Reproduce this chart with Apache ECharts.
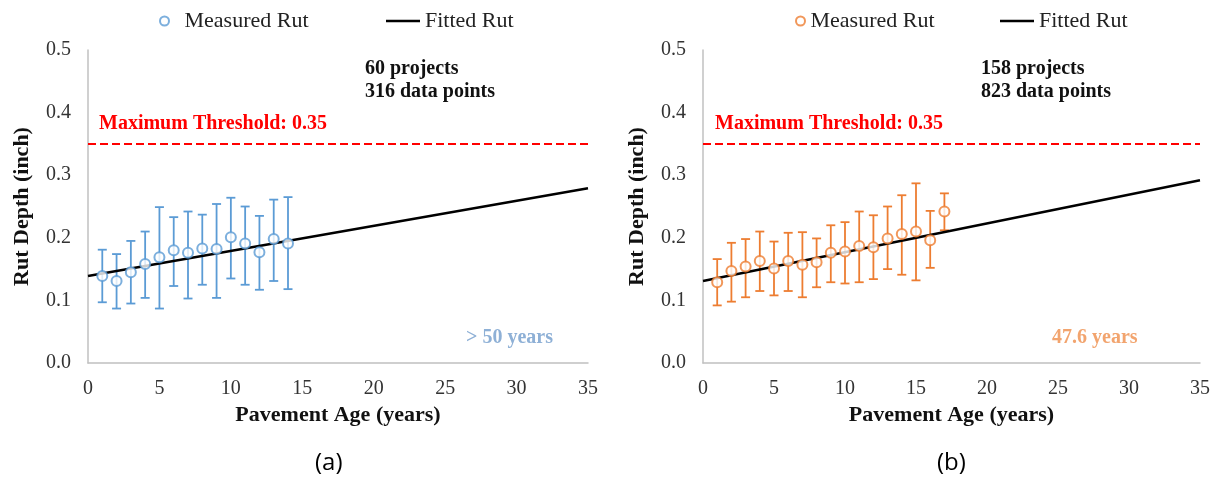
<!DOCTYPE html>
<html>
<head>
<meta charset="utf-8">
<script src="https://cdn.jsdelivr.net/npm/echarts@6/dist/echarts.min.js"></script>
<style>
html,body{margin:0;padding:0;background:#fff;}
#chart{width:1222px;height:481px;}
</style>
</head>
<body>
<div id="chart"></div>
<script>
// ---- Data ----
const ageA  = [1,2,3,4,5,6,7,8,9,10,11,12,13,14];
const meanA = [0.139,0.131,0.145,0.158,0.169,0.180,0.176,0.183,0.182,0.201,0.191,0.177,0.198,0.191];
const lowA  = [0.097,0.087,0.095,0.104,0.087,0.123,0.103,0.125,0.104,0.135,0.125,0.117,0.131,0.118];
const highA = [0.181,0.174,0.195,0.210,0.249,0.233,0.242,0.237,0.254,0.264,0.250,0.235,0.261,0.265];
const fitA  = [[0,0.139],[35,0.279]];

const ageB  = [1,2,3,4,5,6,7,8,9,10,11,12,13,14,15,16,17];
const meanB = [0.129,0.147,0.154,0.163,0.151,0.163,0.157,0.161,0.176,0.178,0.187,0.185,0.199,0.206,0.210,0.196,0.242];
const lowB  = [0.092,0.098,0.105,0.115,0.108,0.115,0.105,0.121,0.129,0.127,0.129,0.134,0.150,0.141,0.132,0.152,0.212];
const highB = [0.166,0.192,0.198,0.210,0.194,0.208,0.209,0.199,0.220,0.225,0.242,0.236,0.250,0.268,0.287,0.243,0.271];
const fitB  = [[0,0.131],[35,0.292]];

const threshold = 0.35;
const xTicks = {min:0, max:35, interval:5};
const yTicks = {min:0, max:0.5, interval:0.1};

const notesA = ['60 projects','316 data points'];
const notesB = ['158 projects','823 data points'];
const lifeA = '> 50 years';
const lifeB = '47.6 years';

// ---- Styles ----
const SERIF = '"Liberation Serif","Times New Roman",serif';
const BLUE = '#5b9bd5', ORANGE = '#ed7d31';

function xAxis(gi){
  return {
    gridIndex:gi, type:'value', min:xTicks.min, max:xTicks.max, interval:xTicks.interval,
    axisLine:{show:true, lineStyle:{color:'#c0c0c0', width:1.5}},
    axisTick:{show:false}, splitLine:{show:false},
    axisLabel:{fontFamily:SERIF, fontSize:20, color:'#333', margin:16},
    name:'Pavement Age (years)', nameLocation:'middle', nameGap:40,
    nameTextStyle:{fontFamily:SERIF, fontSize:22, fontWeight:'bold', color:'#111'}
  };
}
function yAxis(gi){
  return {
    gridIndex:gi, type:'value', min:yTicks.min, max:yTicks.max, interval:yTicks.interval,
    axisLine:{show:true, lineStyle:{color:'#c0c0c0', width:1.5}},
    axisTick:{show:false}, splitLine:{show:false},
    axisLabel:{fontFamily:SERIF, fontSize:20, color:'#333', margin:17, formatter:v=>v.toFixed(1)},
    name:'Rut Depth (inch)', nameLocation:'middle', nameGap:55, nameRotate:90,
    nameTextStyle:{fontFamily:SERIF, fontSize:22, fontWeight:'bold', color:'#111'}
  };
}
function errSeries(name, gi, ages, lows, highs, color){
  return {
    name:name, type:'custom', xAxisIndex:gi, yAxisIndex:gi, z:2, silent:true,
    data: ages.map((a,i)=>[a, lows[i], highs[i]]),
    encode:{x:0, y:[1,2]},
    renderItem:function(params, api){
      const x = api.value(0);
      const pLo = api.coord([x, api.value(1)]);
      const pHi = api.coord([x, api.value(2)]);
      const c = 4.5;
      const st = {stroke:color, lineWidth:1.8};
      return {type:'group', children:[
        {type:'line', shape:{x1:pLo[0], y1:pLo[1], x2:pHi[0], y2:pHi[1]}, style:st},
        {type:'line', shape:{x1:pLo[0]-c, y1:pLo[1], x2:pLo[0]+c, y2:pLo[1]}, style:st},
        {type:'line', shape:{x1:pHi[0]-c, y1:pHi[1], x2:pHi[0]+c, y2:pHi[1]}, style:st}
      ]};
    }
  };
}
function fitSeries(name, gi, fit, labelDist){
  return {
    name:name, type:'line', xAxisIndex:gi, yAxisIndex:gi, z:3, silent:true,
    data:fit, symbol:'none', lineStyle:{color:'#000', width:2.5}, itemStyle:{color:'#000'},
    markLine:{
      silent:true, symbol:['none','none'],
      lineStyle:{color:'#ff0000', type:[8,4], width:2},
      label:{show:true, position:'insideStartTop', formatter:'Maximum Threshold: 0.35',
             color:'#ff0000', fontFamily:SERIF, fontSize:20, fontWeight:'bold', distance:labelDist},
      data:[{yAxis:threshold}]
    }
  };
}
function measSeries(name, gi, ages, means, color){
  return {
    name:name, type:'scatter', xAxisIndex:gi, yAxisIndex:gi, z:4, silent:true,
    data: ages.map((a,i)=>[a, means[i]]),
    symbol:'emptyCircle', symbolSize:10,
    itemStyle:{color:color, borderColor:color, borderWidth:2.2}
  };
}
const legendText = {fontFamily:SERIF, fontSize:22, color:'#222'};
const stripName = n => n.replace(/ \([ab]\)$/, '');
function legendMeas(name, left, w){
  return {data:[name], left:left, top:10, itemWidth:w, itemHeight:9, itemGap:0,
          textStyle:legendText, formatter:stripName, selectedMode:false, padding:0};
}
function legendFit(name, left){
  return {data:[{name:name, icon:'rect'}], left:left, top:10, itemWidth:34, itemHeight:2.5, itemGap:0,
          itemStyle:{color:'#000'}, textStyle:legendText, formatter:stripName, selectedMode:false, padding:0};
}
function noteText(lines, left, top){
  return {type:'text', left:left, top:top,
          style:{text:lines.join('\n'), font:'bold 20px ' + SERIF, fill:'#111', lineHeight:23}};
}

const chart = echarts.init(document.getElementById('chart'), null, {renderer:'canvas'});
chart.setOption({
  animation:false,
  backgroundColor:'#fff',
  grid:[
    {left:88, right:634, top:50, bottom:118},
    {left:703, right:22, top:50, bottom:118}
  ],
  xAxis:[xAxis(0), xAxis(1)],
  yAxis:[yAxis(0), yAxis(1)],
  legend:[
    legendMeas('Measured Rut (a)', 159, 30),
    legendFit('Fitted Rut (a)', 386),
    legendMeas('Measured Rut (b)', 795, 10),
    legendFit('Fitted Rut (b)', 1000)
  ],
  series:[
    errSeries('Error (a)', 0, ageA, lowA, highA, BLUE),
    fitSeries('Fitted Rut (a)', 0, fitA, [11,10]),
    measSeries('Measured Rut (a)', 0, ageA, meanA, BLUE),
    errSeries('Error (b)', 1, ageB, lowB, highB, ORANGE),
    fitSeries('Fitted Rut (b)', 1, fitB, [12,10]),
    measSeries('Measured Rut (b)', 1, ageB, meanB, ORANGE)
  ],
  graphic:[
    noteText(notesA, 365, 57),
    noteText(notesB, 981, 57),
    {type:'text', left:466, top:328, style:{text:lifeA, font:'bold 20px ' + SERIF, fill:'#8eb0d6'}},
    {type:'text', left:1052, top:328, style:{text:lifeB, font:'bold 20px ' + SERIF, fill:'#f2a46e'}},
    {type:'text', left:315, top:451, style:{text:'(a)', font:'24px "Open Sans","Noto Sans",sans-serif', fill:'#000'}},
    {type:'text', left:937, top:451, style:{text:'(b)', font:'24px "Open Sans","Noto Sans",sans-serif', fill:'#000'}}
  ]
});
</script>
</body>
</html>
